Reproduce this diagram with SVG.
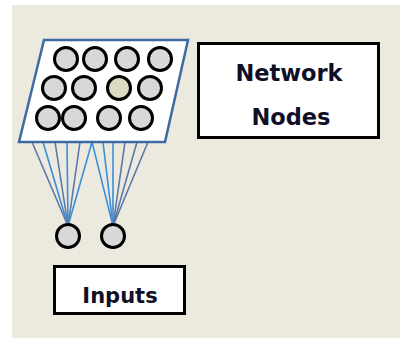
<svg xmlns="http://www.w3.org/2000/svg" width="400" height="338" viewBox="0 0 400 338">
<style>
.node{fill:#d8d8d8;stroke:#000;stroke-width:3}
.box{fill:#fff;stroke:#000;stroke-width:3}
.lbl{font-family:"DejaVu Sans",sans-serif;font-weight:bold;fill:#0f0f28;text-anchor:middle}
.a{stroke:#5b78a8;stroke-width:1.6}
.b{stroke:#3a8fd6;stroke-width:1.6}
</style>
<rect x="0" y="0" width="400" height="338" fill="#fff"/>
<rect x="12" y="5" width="388" height="333" fill="#ece9df"/>
<g id="connectors">
<line class="a" x1="32" y1="142" x2="68" y2="226"/>
<line class="b" x1="43" y1="142" x2="68" y2="226"/>
<line class="a" x1="55" y1="142" x2="68" y2="226"/>
<line class="b" x1="67" y1="142" x2="68" y2="226"/>
<line class="a" x1="80" y1="142" x2="68" y2="226"/>
<line class="b" x1="92" y1="142" x2="68" y2="226"/>
<line class="b" x1="92" y1="142" x2="113" y2="226"/>
<line class="b" x1="103" y1="142" x2="113" y2="226"/>
<line class="b" x1="113" y1="142" x2="113" y2="226"/>
<line class="a" x1="125" y1="142" x2="113" y2="226"/>
<line class="a" x1="137" y1="142" x2="113" y2="226"/>
<line class="a" x1="148" y1="142" x2="113" y2="226"/>
</g>
<g id="network">
<polygon points="44,40 188,40 165,142 19,142" fill="#fff" stroke="#3d6aa3" stroke-width="2.5"/>
<circle class="node" cx="66" cy="59" r="11.5"/>
<circle class="node" cx="95" cy="59" r="11.5"/>
<circle class="node" cx="127" cy="59" r="11.5"/>
<circle class="node" cx="160" cy="59" r="11.5"/>
<circle class="node" cx="54" cy="88" r="11.5"/>
<circle class="node" cx="84" cy="88" r="11.5"/>
<circle class="node" cx="119" cy="88" r="11.5" style="fill:#dddac4"/>
<circle class="node" cx="150" cy="88" r="11.5"/>
<circle class="node" cx="48" cy="118" r="11.5"/>
<circle class="node" cx="74" cy="118" r="11.5"/>
<circle class="node" cx="109" cy="118" r="11.5"/>
<circle class="node" cx="141" cy="118" r="11.5"/>
</g>
<g id="input1"><circle class="node" cx="68" cy="236" r="11.5"/></g>
<g id="input2"><circle class="node" cx="113" cy="236" r="11.5"/></g>
<g id="network-label">
<rect class="box" x="198.5" y="43.5" width="180" height="94"/>
<text class="lbl" x="289" y="81" font-size="22.5">Network</text>
<text class="lbl" x="291" y="125" font-size="22.5">Nodes</text>
</g>
<g id="inputs-label">
<rect class="box" x="54.5" y="266.5" width="130" height="47"/>
<text class="lbl" x="120" y="303" font-size="21">Inputs</text>
</g>
</svg>
